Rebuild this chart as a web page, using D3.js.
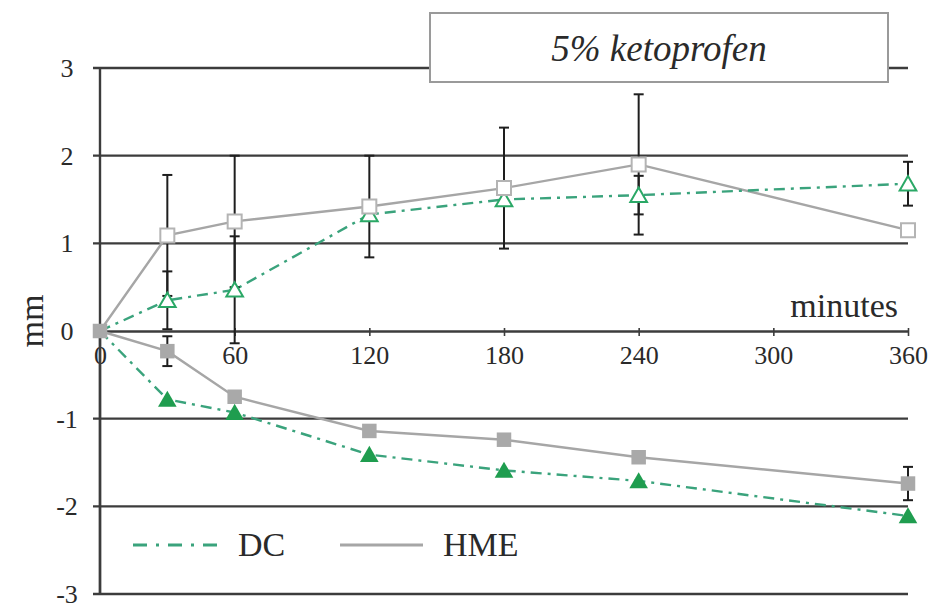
<!DOCTYPE html>
<html>
<head>
<meta charset="utf-8">
<script src="https://cdn.jsdelivr.net/npm/d3@7"></script>
<style>
  html, body { margin: 0; padding: 0; background: #fff; }
  svg { display: block; }
  text { font-family: "Liberation Serif", Tinos, "Times New Roman", Times, "DejaVu Serif", serif; fill: #2a2a2a; }
</style>
</head>
<body>
<svg id="chart" width="951" height="613"></svg>
<script>
// Sampling times (minutes)
const minutes = [0, 30, 60, 120, 180, 240, 360];
const xTicks = [0, 60, 120, 180, 240, 300, 360];
const yTicks = [-3, -2, -1, 0, 1, 2, 3];

// Upper curves (open markers)
const dcUpper      = [0, 0.35, 0.47, 1.33, 1.50, 1.55, 1.68];
const dcUpperErr   = [0, 0.33, 0.61, 0, 0, 0.22, 0.25];
const hmeUpper     = [0, 1.09, 1.25, 1.42, 1.63, 1.90, 1.15];
const hmeUpperErr  = [0, 0.69, 0.75, 0.58, 0.69, 0.80, 0];

// Lower curves (filled markers)
const dcLower      = [0, -0.78, -0.93, -1.41, -1.59, -1.71, -2.11];
const dcLowerErr   = [0, 0, 0, 0, 0, 0, 0];
const hmeLower     = [0, -0.23, -0.75, -1.14, -1.24, -1.44, -1.74];
const hmeLowerErr  = [0, 0.17, 0, 0, 0, 0, 0.19];

const titleText = "5% ketoprofen";
const legendLabels = ["DC", "HME"];

const svg = d3.select("#chart");
const x = d3.scaleLinear().domain([0, 360]).range([100, 908]);
const y = d3.scaleLinear().domain([-3, 3]).range([594, 68]);

const gridColor = "#3c3c3c";
const green = "#1f9d4f";
const dcLineColor = "#3aa37c";
const hmeLineColor = "#a6a6a6";

// Horizontal grid lines with short left ticks
svg.append("g")
  .selectAll("line")
  .data(yTicks.filter(v => v !== 0))
  .join("line")
  .attr("x1", x(0) - 7).attr("x2", x(360))
  .attr("y1", d => y(d)).attr("y2", d => y(d))
  .attr("stroke", gridColor).attr("stroke-width", 2.4);

// Y axis line
svg.append("line")
  .attr("x1", x(0)).attr("x2", x(0))
  .attr("y1", y(3)).attr("y2", y(-3))
  .attr("stroke", gridColor).attr("stroke-width", 2.4);

// Y tick labels
svg.append("g")
  .selectAll("text")
  .data(yTicks)
  .join("text")
  .attr("x", 67).attr("y", d => y(d))
  .attr("dy", "0.35em")
  .attr("text-anchor", "middle")
  .attr("font-size", 26)
  .text(d => d);

// X axis at zero
const xAxis = d3.axisBottom(x)
  .tickValues(xTicks)
  .tickSize(5)
  .tickSizeOuter(0)
  .tickFormat(d3.format("d"));
const gx = svg.append("g")
  .attr("transform", `translate(0,${y(0)})`)
  .call(xAxis);
gx.attr("font-family", null).attr("font-size", null);
gx.select(".domain").attr("stroke", gridColor).attr("stroke-width", 2.4);
gx.selectAll(".tick line").attr("stroke", gridColor).attr("stroke-width", 1.6).attr("y1", -3);
gx.selectAll(".tick text")
  .attr("y", 24)
  .attr("dy", "0.35em")
  .attr("font-size", 26)
  .attr("fill", "#2a2a2a");
// Y axis drawn over the "0" label
svg.append("line")
  .attr("x1", x(0)).attr("x2", x(0))
  .attr("y1", y(0)).attr("y2", y(-3))
  .attr("stroke", gridColor).attr("stroke-width", 2.4);

// Axis titles
svg.append("text")
  .attr("transform", `translate(43,321) rotate(-90)`)
  .attr("text-anchor", "middle")
  .attr("font-size", 34)
  .text("mm");
svg.append("text")
  .attr("x", 898).attr("y", 317)
  .attr("text-anchor", "end")
  .attr("font-size", 34)
  .text("minutes");

// Title box
svg.append("rect")
  .attr("x", 430).attr("y", 13).attr("width", 458).attr("height", 69)
  .attr("fill", "#fff").attr("stroke", "#9a9a9a").attr("stroke-width", 2);
svg.append("text")
  .attr("x", 659).attr("y", 48)
  .attr("dy", "0.35em")
  .attr("text-anchor", "middle")
  .attr("font-size", 37)
  .attr("font-style", "italic")
  .attr("fill", "#333")
  .text(titleText);

const line = d3.line().x(d => x(d[0])).y(d => y(d[1]));
const pts = vals => minutes.map((m, i) => [m, vals[i]]);

const dcDash = "11,6,3,6";

function drawLine(vals, color, dash) {
  svg.append("path")
    .datum(pts(vals))
    .attr("d", line)
    .attr("fill", "none")
    .attr("stroke", color)
    .attr("stroke-width", 2.4)
    .attr("stroke-dasharray", dash || null);
}
drawLine(hmeUpper, hmeLineColor);
drawLine(hmeLower, hmeLineColor);
drawLine(dcUpper, dcLineColor, dcDash);
drawLine(dcLower, dcLineColor, dcDash);

// Error bars
function drawErr(vals, errs) {
  const data = minutes.map((m, i) => ({ m, v: vals[i], e: errs[i] })).filter(d => d.e > 0);
  const g = svg.append("g").attr("stroke", "#1e1e1e").attr("stroke-width", 2);
  g.selectAll("line.bar").data(data).join("line")
    .attr("x1", d => x(d.m)).attr("x2", d => x(d.m))
    .attr("y1", d => y(d.v + d.e)).attr("y2", d => y(d.v - d.e));
  g.selectAll("line.top").data(data).join("line")
    .attr("x1", d => x(d.m) - 5).attr("x2", d => x(d.m) + 5)
    .attr("y1", d => y(d.v + d.e)).attr("y2", d => y(d.v + d.e));
  g.selectAll("line.bot").data(data).join("line")
    .attr("x1", d => x(d.m) - 5).attr("x2", d => x(d.m) + 5)
    .attr("y1", d => y(d.v - d.e)).attr("y2", d => y(d.v - d.e));
}
drawErr(hmeUpper, hmeUpperErr);
drawErr(dcUpper, dcUpperErr);
drawErr(hmeLower, hmeLowerErr);
drawErr(dcLower, dcLowerErr);

// Markers
function drawMarkers(vals, type, size, fill, stroke, skipZero) {
  const data = pts(vals).filter((d, i) => !(skipZero && i === 0));
  svg.append("g").selectAll("path").data(data).join("path")
    .attr("transform", d => `translate(${x(d[0])},${y(d[1]) + (type === d3.symbolTriangle ? 2 : 0)})`)
    .attr("d", d3.symbol().type(type).size(size))
    .attr("fill", fill)
    .attr("stroke", stroke)
    .attr("stroke-width", stroke === "none" ? 0 : 2);
}
drawMarkers(dcUpper, d3.symbolTriangle, 120, "#fff", "#2aa866", true);
drawMarkers(hmeUpper, d3.symbolSquare, 196, "#fff", "#b4b4b4", true);
drawMarkers(dcLower, d3.symbolTriangle, 150, green, "none", true);
drawMarkers(hmeLower, d3.symbolSquare, 210, "#a9a9a9", "none", false);

// Legend
const legend = svg.append("g");
legend.append("line")
  .attr("x1", 133).attr("x2", 217).attr("y1", 545).attr("y2", 545)
  .attr("stroke", dcLineColor).attr("stroke-width", 3)
  .attr("stroke-dasharray", "14,9,3,9");
legend.append("text")
  .attr("x", 238).attr("y", 556)
  .attr("font-size", 34)
  .text(legendLabels[0]);
legend.append("line")
  .attr("x1", 340).attr("x2", 423).attr("y1", 545).attr("y2", 545)
  .attr("stroke", hmeLineColor).attr("stroke-width", 3);
legend.append("text")
  .attr("x", 443).attr("y", 556)
  .attr("font-size", 34)
  .text(legendLabels[1]);
</script>
</body>
</html>
